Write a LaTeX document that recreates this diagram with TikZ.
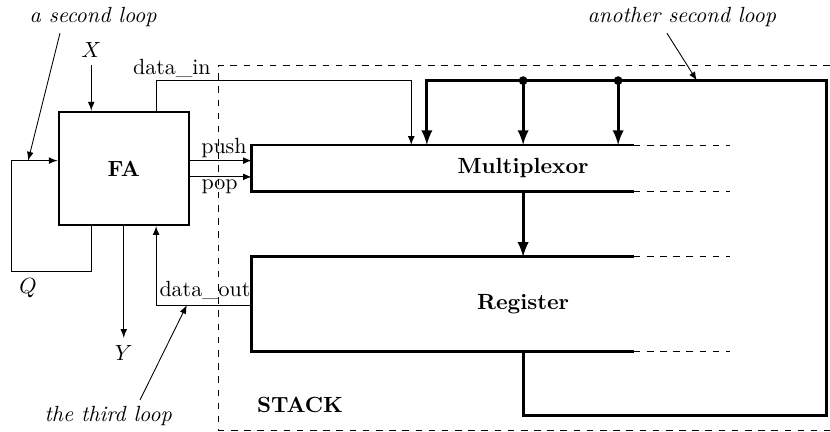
\documentclass[tikz,border=0pt]{standalone}
\usepackage{tikz}
\usetikzlibrary{positioning}
\tikzset{>=latex}
\tikzstyle{block}=[draw,line width=1pt,minimum width=2.08cm,minimum height=1.81cm,font=\bfseries]
\tikzstyle{wire}=[->,thin]
\tikzstyle{bus}=[->,line width=1.3pt]
\tikzstyle{note}=[font=\itshape]
\tikzstyle{extend}=[dashed,thin]

\begin{document}
\begin{tikzpicture}
  \useasboundingbox (0,0) rectangle (13.28,6.91);
  % stack frame
  \draw[extend] (13.28,5.87) -| (3.50,0.03) -- (13.28,0.03);
  \node[font=\bfseries] (stack) at (4.80,0.43) {STACK};

  % blocks
  \node[block] (fa) at (1.98,4.215) {FA};
  \node[font=\bfseries] (mux) at (8.37,4.215) {Multiplexor};
  \node[font=\bfseries] (reg) at (8.37,2.04) {Register};
  \coordinate (muxnw) at (4.03,4.59);
  \coordinate (muxsw) at (4.03,3.84);
  \coordinate (regnw) at (4.03,2.80);
  \coordinate (regsw) at (4.03,1.28);
  \draw[line width=1.3pt] (10.14,4.59) -- (muxnw) -- (muxsw) -- (10.14,3.84);
  \draw[line width=1.3pt] (10.14,2.80) -- (regnw) -- (regsw) -- (10.14,1.28);
  \foreach \y in {4.59,3.84,2.80,1.28}
    \draw[extend] (10.14,\y) -- (11.68,\y);

  % inputs and outputs of FA
  \node (x) at (1.46,6.11) {$X$};
  \draw[wire] (x) -- (x |- fa.north);
  \node (y) at (1.98,1.26) {$Y$};
  \draw[wire] (fa.south) -- (y);
  \coordinate (push) at (4.03,4.34);
  \coordinate (pop) at (4.03,4.08);
  \draw[wire] (fa.east |- push) -- (push) node[pos=0.55,above,inner sep=1pt] {push};
  \draw[wire] (fa.east |- pop) -- (pop) node[pos=0.48,below,inner sep=1pt] {pop};

  % Q loop
  \coordinate (qlow) at (0.19,2.56);
  \draw[wire] (fa.south -| x) |- (qlow) |- (fa.west |- push);
  \node (q) at (0.45,2.30) {$Q$};

  % data lines
  \coordinate (din) at (6.58,5.62);
  \draw[wire] ([xshift=-0.54cm]fa.north east) |- (din) -- (din |- muxnw);
  \node (dinl) at (2.75,5.82) {data\_in};
  \coordinate (dout) at (4.03,2.03);
  \draw[wire] (dout) -| ([xshift=-0.54cm]fa.south east);
  \node (doutl) at (3.28,2.27) {data\_out};

  % stack loop
  \draw[bus] (muxsw -| mux) -- (regnw -| reg);
  \coordinate (ltop) at (13.22,5.62);
  \coordinate (lbot) at (13.22,0.26);
  \draw[bus] (regsw -| reg) |- (lbot) -- (ltop) -- (6.83,5.62) -- (6.83,4.59);
  \foreach \x in {8.37,9.89}{
    \fill (\x,5.62) circle (0.07);
    \draw[bus] (\x,5.62) -- (\x,4.59);
  }

  % notes
  \node[note] (n1) at (1.49,6.64) {a second loop};
  \draw[->] (0.96,6.38) -- (0.45,4.34);
  \node[note] (n2) at (10.91,6.64) {another second loop};
  \draw[->] (10.67,6.38) -- (11.15,5.62);
  \node[note] (n3) at (1.73,0.26) {the third loop};
  \draw[->] (2.24,0.51) -- (2.99,2.03);
\end{tikzpicture}
\end{document}
